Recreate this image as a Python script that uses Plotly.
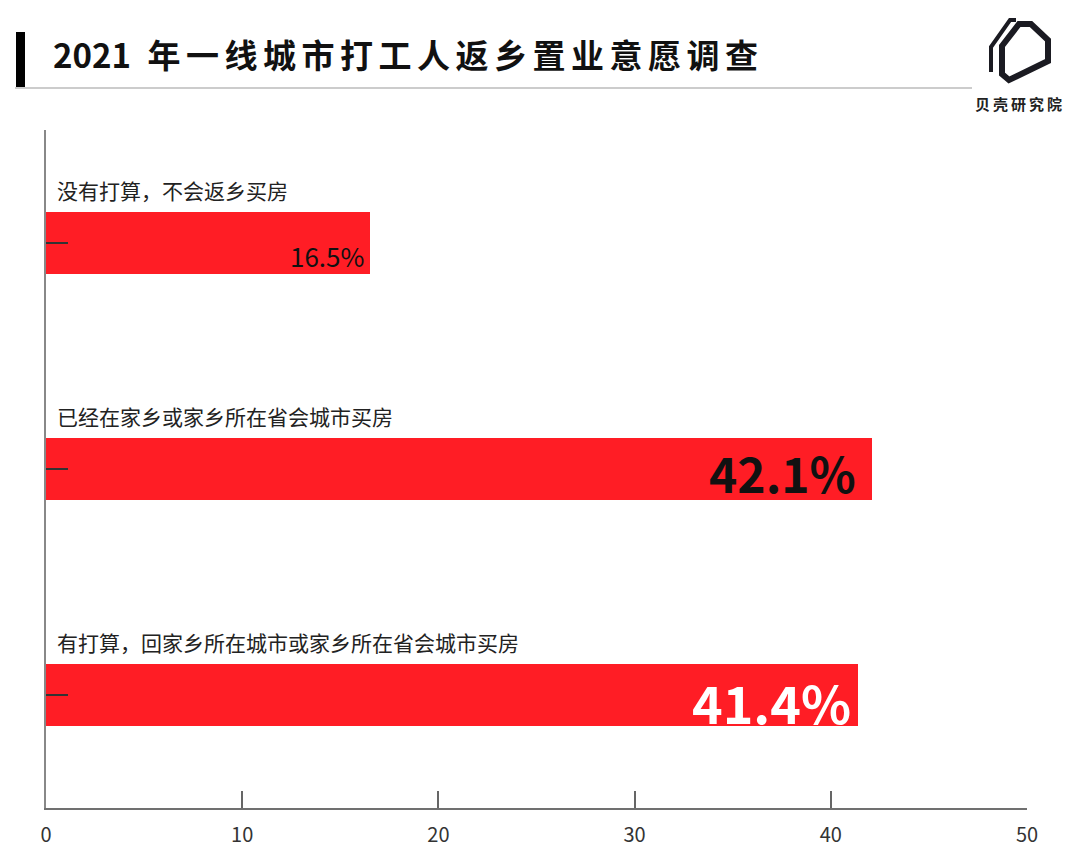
import plotly.graph_objects as go

# ---- data ----
categories = ["没有打算，不会返乡买房",
              "已经在家乡或家乡所在省会城市买房",
              "有打算，回家乡所在城市或家乡所在省会城市买房"]
values = [16.5, 42.1, 41.4]
x_ticks = [0, 10, 20, 30, 40, 50]
title_year = "2021"
title_text = "年一线城市打工人返乡置业意愿调查"
logo_text = "贝壳研究院"

W, H = 1080, 859
ML, MR, MT, MB = 46, 53, 130, 51
PW, PH = W - ML - MR, H - MT - MB


def px(x):
    return (x - ML) / PW


def py(y):
    return (H - MB - y) / PH


def spaced(s, sp):
    return sp.join(list(s))


FONT = "Noto Sans CJK SC, Noto Sans, sans-serif"
ypos = list(range(len(categories)))

fig = go.Figure()
fig.add_trace(go.Bar(
    x=values, y=ypos, orientation="h", width=0.275,
    marker=dict(color="#FF1D25", line=dict(width=0)),
    hoverinfo="skip", showlegend=False,
))

# category labels above bars
for i, c in enumerate(categories):
    fig.add_annotation(x=0, y=ypos[i], xref="x", yref="y", text=c,
                       showarrow=False, xanchor="left", yanchor="middle",
                       xshift=9, yshift=53,
                       font=dict(family=FONT, size=21, color="#222222"))

# value labels
label_styles = [dict(size=26, color="#111111", bold=False, ys=-12, xs=-4),
                dict(size=48, color="#111111", bold=True, ys=-3, xs=-14),
                dict(size=52, color="#FFFFFF", bold=True, ys=-6, xs=-5)]
for i, v in enumerate(values):
    st = label_styles[i]
    txt = f"{v}%"
    if st["bold"]:
        txt = f"<b>{txt}</b>"
    fig.add_annotation(x=v, y=ypos[i], xref="x", yref="y", text=txt,
                       showarrow=False, xanchor="right", yanchor="middle",
                       xshift=st["xs"], yshift=st["ys"],
                       font=dict(family=FONT, size=st["size"], color=st["color"]))

fig.update_xaxes(range=[0, 50], tickvals=x_ticks, ticks="inside", ticklen=17,
                 tickwidth=2, tickcolor="#666666", showline=True, linewidth=2,
                 linecolor="#707070", showgrid=False, zeroline=False,
                 ticklabelstandoff=8,
                 tickfont=dict(family=FONT, size=20, color="#333333"))
fig.update_yaxes(range=[2.5, -0.5], tickvals=ypos, ticktext=["", "", ""],
                 ticks="inside", ticklen=22, tickwidth=1.5, tickcolor="#333333",
                 showline=True, linewidth=2, linecolor="#888888",
                 showgrid=False, zeroline=False)

shapes = []
# title side bar
shapes.append(dict(type="rect", xref="paper", yref="paper",
                   x0=px(16), x1=px(25), y0=py(88), y1=py(32),
                   fillcolor="#000000", line=dict(width=0)))
# gray rule under title
shapes.append(dict(type="line", xref="paper", yref="paper",
                   x0=px(15), x1=px(972), y0=py(88), y1=py(88),
                   line=dict(color="#CCCCCC", width=2)))


def poly(points, close=True):
    s = "M " + " L ".join(f"{px(a)},{py(b)}" for a, b in points)
    return s + (" Z" if close else "")


# logo: thick house-like outline + thin left stroke
shapes.append(dict(type="path", xref="paper", yref="paper",
                   path=poly([(1002, 74), (1002, 46), (1019, 24), (1031, 24),
                              (1048, 40), (1048, 61), (1009, 80)]),
                   line=dict(color="#1B1B22", width=6), fillcolor="rgba(0,0,0,0)"))
shapes.append(dict(type="path", xref="paper", yref="paper",
                   path=poly([(991, 72), (991, 47), (1010, 20), (1016, 20)], close=False),
                   line=dict(color="#1B1B22", width=4), fillcolor="rgba(0,0,0,0)"))

annotations = [
    dict(xref="paper", yref="paper", x=px(51), y=py(54),
         text=f"<b>{title_year}\u2002{spaced(title_text, chr(0x2006))}</b>",
         showarrow=False, xanchor="left", yanchor="middle",
         font=dict(family=FONT, size=33, color="#111111")),
    dict(xref="paper", yref="paper", x=px(1018), y=py(103),
         text=f"<b>{spaced(logo_text, chr(0x2009))}</b>",
         showarrow=False, xanchor="center", yanchor="middle",
         font=dict(family=FONT, size=15, color="#222222")),
]

fig.update_layout(
    width=W, height=H, margin=dict(l=ML, r=MR, t=MT, b=MB),
    paper_bgcolor="#FFFFFF", plot_bgcolor="#FFFFFF",
    shapes=shapes, bargap=0,
)
for a in annotations:
    fig.add_annotation(**a)

fig.write_html("out.html")
